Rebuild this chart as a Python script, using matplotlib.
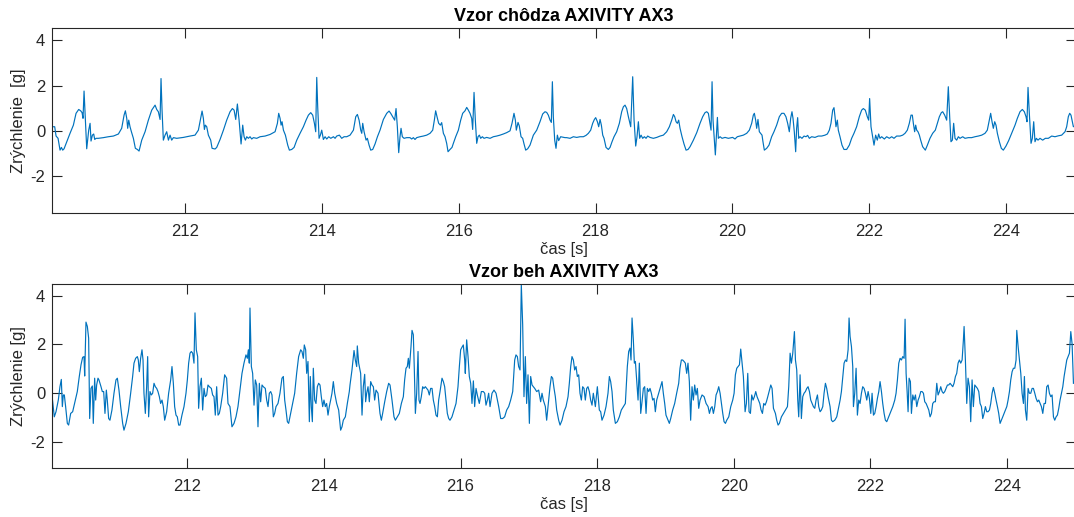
import matplotlib
matplotlib.use("Agg")
import matplotlib.pyplot as plt

# walking pattern, values (time [s], acceleration [g])
walk_t = [
    210.066, 210.095, 210.115, 210.144, 210.173, 210.193, 210.212, 210.232, 210.271, 210.319,
    210.368, 210.407, 210.446, 210.475, 210.495, 210.509, 210.524, 210.543, 210.563, 210.592,
    210.612, 210.626, 210.646, 210.665, 210.680, 210.699, 210.733, 210.807, 210.880, 210.953,
    211.026, 211.074, 211.109, 211.128, 211.148, 211.162, 211.177, 211.196, 211.216, 211.245,
    211.274, 211.303, 211.328, 211.367, 211.416, 211.464, 211.513, 211.562, 211.586, 211.610,
    211.635, 211.649, 211.664, 211.683, 211.708, 211.732, 211.757, 211.781, 211.805, 211.830,
    211.878, 211.976, 212.073, 212.146, 212.195, 212.229, 212.249, 212.268, 212.283, 212.297,
    212.317, 212.341, 212.375, 212.395, 212.439, 212.463, 212.512, 212.561, 212.609, 212.658,
    212.692, 212.717, 212.741, 212.765, 212.790, 212.819, 212.843, 212.863, 212.882, 212.902,
    212.926, 212.950, 212.975, 212.999, 213.048, 213.097, 213.170, 213.243, 213.316, 213.350,
    213.369, 213.389, 213.404, 213.418, 213.438, 213.467, 213.501, 213.525, 213.559, 213.594,
    213.633, 213.681, 213.730, 213.769, 213.803, 213.837, 213.866, 213.891, 213.910, 213.925,
    213.939, 213.959, 213.978, 213.998, 214.022, 214.047, 214.071, 214.100, 214.130, 214.169,
    214.193, 214.217, 214.256, 214.290, 214.324, 214.363, 214.412, 214.461, 214.495, 214.519,
    214.544, 214.568, 214.583, 214.597, 214.617, 214.646, 214.665, 214.690, 214.714, 214.743,
    214.777, 214.812, 214.850, 214.899, 214.948, 214.982, 215.006, 215.035, 215.064, 215.084,
    215.103, 215.123, 215.142, 215.157, 215.176, 215.201, 215.240, 215.288, 215.313, 215.337,
    215.361, 215.386, 215.434, 215.483, 215.532, 215.581, 215.620, 215.644, 215.663, 215.683,
    215.707, 215.732, 215.751, 215.776, 215.800, 215.824, 215.844, 215.873, 215.902, 215.922,
    215.956, 215.995, 216.029, 216.058, 216.092, 216.117, 216.141, 216.165, 216.190, 216.204,
    216.224, 216.243, 216.263, 216.282, 216.302, 216.321, 216.346, 216.370, 216.409, 216.458,
    216.506, 216.555, 216.604, 216.652, 216.701, 216.750, 216.779, 216.808, 216.828, 216.842,
    216.867, 216.886, 216.911, 216.935, 216.955, 216.979, 217.008, 217.042, 217.091, 217.140,
    217.188, 217.227, 217.261, 217.286, 217.310, 217.335, 217.354, 217.369, 217.383, 217.403,
    217.422, 217.442, 217.461, 217.490, 217.554, 217.578, 217.627, 217.676, 217.725, 217.773,
    217.822, 217.861, 217.895, 217.929, 217.958, 217.983, 218.002, 218.027, 218.046, 218.066,
    218.085, 218.105, 218.124, 218.153, 218.187, 218.212, 218.241, 218.270, 218.309, 218.348,
    218.382, 218.407, 218.431, 218.455, 218.480, 218.514, 218.543, 218.563, 218.587, 218.606,
    218.626, 218.645, 218.665, 218.689, 218.714, 218.738, 218.762, 218.796, 218.845, 218.894,
    218.943, 218.991, 219.040, 219.079, 219.113, 219.138, 219.157, 219.177, 219.196, 219.215,
    219.235, 219.264, 219.293, 219.323, 219.352, 219.381, 219.430, 219.479, 219.527, 219.566,
    219.600, 219.625, 219.649, 219.673, 219.688, 219.703, 219.717, 219.737, 219.751, 219.766,
    219.781, 219.795, 219.820, 219.849, 219.893, 219.941, 219.990, 220.004, 220.038, 220.072,
    220.111, 220.160, 220.209, 220.248, 220.282, 220.306, 220.321, 220.340, 220.355, 220.374,
    220.394, 220.413, 220.433, 220.447, 220.467, 220.501, 220.535, 220.574, 220.608, 220.647,
    220.686, 220.720, 220.754, 220.783, 220.808, 220.832, 220.852, 220.871, 220.886, 220.905,
    220.925, 220.939, 220.954, 220.969, 220.988, 221.017, 221.047, 221.076, 221.100, 221.125,
    221.159, 221.207, 221.256, 221.305, 221.354, 221.388, 221.417, 221.441, 221.466, 221.485,
    221.500, 221.514, 221.534, 221.548, 221.573, 221.602, 221.631, 221.670, 221.709, 221.743,
    221.777, 221.816, 221.855, 221.889, 221.914, 221.943, 221.972, 221.992, 222.006, 222.026,
    222.050, 222.070, 222.094, 222.118, 222.138, 222.157, 222.182, 222.221, 222.255, 222.294,
    222.328, 222.362, 222.401, 222.450, 222.489, 222.523, 222.557, 222.586, 222.611, 222.630,
    222.645, 222.664, 222.679, 222.694, 222.713, 222.733, 222.752, 222.781, 222.820, 222.850,
    222.888, 222.927, 222.966, 222.996, 223.025, 223.054, 223.074, 223.103, 223.132, 223.156,
    223.176, 223.195, 223.215, 223.234, 223.254, 223.278, 223.303, 223.327, 223.366, 223.400,
    223.449, 223.497, 223.546, 223.595, 223.644, 223.692, 223.726, 223.756, 223.775, 223.795,
    223.814, 223.834, 223.853, 223.873, 223.902, 223.931, 223.960, 223.999, 224.038, 224.082,
    224.131, 224.165, 224.204, 224.238, 224.267, 224.292, 224.306, 224.321, 224.340, 224.365,
    224.384, 224.404, 224.423, 224.443, 224.467, 224.496, 224.535, 224.574, 224.618, 224.667,
    224.715, 224.764, 224.813, 224.862, 224.886, 224.910, 224.930, 224.949, 224.969, 224.984,
    225.003,
]
walk_g = [
    0.19, 0.19, -0.22, -0.32, -0.84, -0.72, -0.84, -0.78, -0.47, -0.10,
    0.26, 0.78, 0.95, 0.89, 0.81, 0.56, 1.76, 0.48, -0.78, 0.04,
    0.34, -0.44, -0.18, -0.13, -0.37, -0.32, -0.32, -0.29, -0.25, -0.22,
    -0.13, 0.12, 0.70, 0.89, 0.56, 0.12, 0.48, 0.19, -0.03, -0.32,
    -0.76, -0.81, -0.88, -0.40, -0.03, 0.48, 0.92, 1.14, 0.95, 0.85,
    0.51, 2.31, 0.92, -0.40, -0.18, -0.03, -0.40, -0.18, -0.40, -0.29,
    -0.32, -0.28, -0.22, -0.18, 0.04, 0.56, 0.88, 0.56, 0.07, 0.26,
    0.19, -0.18, -0.40, -0.76, -0.79, -0.72, -0.37, 0.04, 0.48, 0.85,
    0.99, 0.92, 0.51, 1.19, 0.48, -0.57, 0.26, -0.25, -0.40, -0.25,
    -0.32, -0.25, -0.35, -0.29, -0.32, -0.25, -0.22, -0.15, -0.03, 0.34,
    0.78, 0.56, 0.26, 0.41, 0.04, -0.18, -0.62, -0.84, -0.81, -0.72,
    -0.40, -0.10, 0.19, 0.48, 0.70, 0.81, 0.70, 0.34, -0.03, 2.36,
    1.07, -0.32, -0.18, 0.04, -0.37, -0.25, -0.35, -0.25, -0.32, -0.25,
    -0.32, -0.22, -0.18, -0.32, -0.25, -0.25, -0.18, 0.04, 0.63, 0.73,
    0.48, 0.04, -0.10, 0.34, -0.03, -0.40, -0.32, -0.62, -0.84, -0.81,
    -0.57, -0.25, 0.04, 0.51, 0.78, 0.88, 0.78, 0.63, 0.48, 0.99,
    0.19, -0.95, -0.25, 0.12, -0.25, -0.32, -0.29, -0.29, -0.35, -0.29,
    -0.37, -0.29, -0.25, -0.22, -0.18, -0.10, 0.04, 0.48, 0.89, 0.63,
    0.34, 0.26, 0.37, -0.10, -0.25, -0.54, -0.91, -0.81, -0.72, -0.54,
    -0.25, 0.04, 0.48, 0.78, 0.89, 1.04, 0.92, 0.78, 0.56, 0.07,
    1.70, 0.48, -0.54, -0.25, -0.18, -0.32, -0.25, -0.32, -0.28, -0.32,
    -0.25, -0.22, -0.18, -0.13, -0.07, 0.01, 0.34, 0.78, 0.48, 0.04,
    0.38, 0.22, -0.25, -0.32, -0.57, -0.84, -0.78, -0.62, -0.18, 0.04,
    0.41, 0.75, 0.85, 0.82, 0.70, 0.48, 0.38, 2.17, 0.63, -0.40,
    -0.76, -0.18, -0.42, -0.25, -0.29, -0.29, -0.32, -0.25, -0.28, -0.25,
    -0.25, -0.19, -0.10, 0.04, 0.34, 0.51, 0.59, 0.41, 0.19, 0.51,
    0.26, -0.18, -0.32, -0.72, -0.81, -0.72, -0.47, -0.25, -0.03, 0.34,
    0.85, 1.07, 1.14, 0.99, 0.63, 0.19, 2.39, 0.48, -0.66, -0.25,
    0.41, -0.32, -0.18, -0.32, -0.25, -0.32, -0.22, -0.28, -0.32, -0.28,
    -0.22, -0.18, -0.03, 0.19, 0.48, 0.73, 0.63, 0.41, 0.34, 0.48,
    0.12, -0.25, -0.57, -0.84, -0.81, -0.69, -0.40, -0.07, 0.34, 0.63,
    0.81, 0.85, 0.78, 0.34, 0.04, 2.17, 0.48, -0.40, -1.05, -0.18,
    0.60, -0.32, -0.25, -0.32, -0.28, -0.32, -0.29, -0.28, -0.35, -0.25,
    -0.22, -0.18, -0.10, 0.04, 0.34, 0.70, 0.78, 0.48, 0.12, 0.51,
    -0.03, -0.10, -0.18, -0.47, -0.84, -0.76, -0.62, -0.25, -0.03, 0.26,
    0.63, 0.78, 0.78, 0.63, 0.34, -0.03, 0.56, 0.85, 0.56, -0.03,
    -0.91, 0.12, 0.59, -0.32, -0.25, -0.32, -0.22, -0.25, -0.19, -0.32,
    -0.25, -0.28, -0.22, -0.22, -0.18, -0.13, 0.04, 0.34, 0.92, 1.03,
    0.63, 0.19, 0.48, 0.04, -0.25, -0.62, -0.81, -0.81, -0.62, -0.32,
    -0.10, 0.19, 0.63, 0.92, 0.99, 0.92, 0.63, 0.48, 1.43, 0.19,
    -0.25, -0.62, -0.18, -0.40, -0.13, -0.32, -0.25, -0.35, -0.25, -0.32,
    -0.25, -0.32, -0.22, -0.22, -0.18, -0.10, 0.04, 0.34, 0.70, 0.70,
    0.34, -0.03, 0.26, 0.04, -0.03, -0.18, -0.40, -0.69, -0.84, -0.62,
    -0.32, -0.10, 0.04, 0.34, 0.63, 0.81, 0.85, 0.70, 0.48, 1.95,
    0.63, -0.47, -0.40, 0.34, -0.32, -0.40, -0.25, -0.32, -0.25, -0.32,
    -0.29, -0.29, -0.25, -0.22, -0.18, -0.10, 0.04, 0.48, 0.78, 0.41,
    0.12, 0.41, 0.26, -0.10, -0.47, -0.76, -0.84, -0.66, -0.42, -0.10,
    0.26, 0.56, 0.85, 0.95, 0.85, 0.63, 0.41, 1.92, 0.78, -0.54,
    -0.32, 0.41, -0.47, -0.32, -0.40, -0.32, -0.40, -0.32, -0.32, -0.22,
    -0.25, -0.21, -0.18, -0.03, 0.19, 0.63, 0.78, 0.70, 0.41, 0.19,
    0.22,
]

# running pattern
run_t = [
    210.024, 210.053, 210.078, 210.112, 210.136, 210.156, 210.171, 210.185, 210.200, 210.219,
    210.244, 210.263, 210.293, 210.322, 210.356, 210.390, 210.419, 210.444, 210.468, 210.488,
    210.498, 210.517, 210.537, 210.556, 210.571, 210.590, 210.610, 210.624, 210.644, 210.659,
    210.673, 210.693, 210.707, 210.737, 210.756, 210.776, 210.795, 210.815, 210.829, 210.849,
    210.868, 210.897, 210.927, 210.956, 210.976, 211.000, 211.025, 211.054, 211.073, 211.103,
    211.137, 211.171, 211.200, 211.220, 211.244, 211.269, 211.283, 211.298, 211.317, 211.337,
    211.352, 211.366, 211.386, 211.405, 211.420, 211.434, 211.454, 211.474, 211.493, 211.513,
    211.532, 211.552, 211.571, 211.591, 211.610, 211.630, 211.649, 211.669, 211.698, 211.727,
    211.757, 211.776, 211.796, 211.815, 211.835, 211.854, 211.874, 211.893, 211.922, 211.952,
    211.981, 212.001, 212.020, 212.040, 212.059, 212.079, 212.098, 212.113, 212.132, 212.152,
    212.166, 212.186, 212.206, 212.225, 212.245, 212.264, 212.284, 212.303, 212.323, 212.352,
    212.371, 212.391, 212.410, 212.430, 212.450, 212.469, 212.489, 212.518, 212.547, 212.576,
    212.596, 212.625, 212.654, 212.684, 212.713, 212.742, 212.772, 212.801, 212.830, 212.859,
    212.879, 212.894, 212.908, 212.918, 212.938, 212.957, 212.977, 212.996, 213.016, 213.035,
    213.055, 213.074, 213.094, 213.113, 213.142, 213.162, 213.182, 213.201, 213.221, 213.240,
    213.260, 213.279, 213.299, 213.328, 213.357, 213.386, 213.406, 213.426, 213.445, 213.465,
    213.484, 213.513, 213.543, 213.572, 213.601, 213.630, 213.660, 213.679, 213.699, 213.713,
    213.733, 213.748, 213.767, 213.787, 213.801, 213.816, 213.831, 213.845, 213.865, 213.884,
    213.904, 213.923, 213.943, 213.962, 213.982, 214.001, 214.021, 214.040, 214.060, 214.079,
    214.099, 214.118, 214.138, 214.158, 214.187, 214.216, 214.245, 214.265, 214.284, 214.314,
    214.343, 214.372, 214.382, 214.411, 214.441, 214.460, 214.480, 214.489, 214.509, 214.538,
    214.558, 214.577, 214.597, 214.611, 214.626, 214.646, 214.665, 214.685, 214.704, 214.724,
    214.743, 214.763, 214.792, 214.821, 214.841, 214.860, 214.890, 214.919, 214.948, 214.968,
    214.997, 215.026, 215.046, 215.075, 215.104, 215.134, 215.163, 215.182, 215.202, 215.221,
    215.236, 215.251, 215.275, 215.290, 215.309, 215.324, 215.339, 215.358, 215.378, 215.392,
    215.407, 215.426, 215.446, 215.465, 215.485, 215.504, 215.524, 215.543, 215.563, 215.583,
    215.602, 215.622, 215.641, 215.661, 215.680, 215.700, 215.729, 215.749, 215.768, 215.788,
    215.807, 215.827, 215.846, 215.875, 215.905, 215.934, 215.963, 215.983, 216.002, 216.022,
    216.041, 216.061, 216.070, 216.090, 216.110, 216.129, 216.149, 216.168, 216.188, 216.207,
    216.227, 216.246, 216.275, 216.305, 216.334, 216.354, 216.373, 216.393, 216.412, 216.432,
    216.461, 216.490, 216.520, 216.559, 216.588, 216.617, 216.646, 216.676, 216.705, 216.734,
    216.764, 216.793, 216.812, 216.832, 216.851, 216.871, 216.890, 216.910, 216.929, 216.949,
    216.968, 216.988, 217.008, 217.027, 217.047, 217.066, 217.086, 217.115, 217.144, 217.173,
    217.193, 217.212, 217.242, 217.261, 217.291, 217.310, 217.330, 217.349, 217.369, 217.388,
    217.408, 217.437, 217.457, 217.486, 217.515, 217.544, 217.574, 217.593, 217.613, 217.632,
    217.652, 217.671, 217.691, 217.710, 217.730, 217.749, 217.769, 217.788, 217.808, 217.827,
    217.847, 217.866, 217.886, 217.905, 217.925, 217.944, 217.974, 218.003, 218.032, 218.052,
    218.071, 218.101, 218.130, 218.159, 218.179, 218.198, 218.218, 218.237, 218.267, 218.296,
    218.325, 218.354, 218.384, 218.413, 218.442, 218.462, 218.481, 218.496, 218.511, 218.530,
    218.545, 218.560, 218.579, 218.599, 218.618, 218.638, 218.657, 218.677, 218.696, 218.716,
    218.735, 218.755, 218.774, 218.794, 218.813, 218.833, 218.852, 218.872, 218.901, 218.930,
    218.950, 218.969, 218.989, 219.008, 219.028, 219.057, 219.077, 219.106, 219.135, 219.164,
    219.194, 219.213, 219.233, 219.252, 219.272, 219.291, 219.311, 219.330, 219.350, 219.369,
    219.389, 219.409, 219.428, 219.448, 219.467, 219.487, 219.507, 219.536, 219.566, 219.595,
    219.624, 219.644, 219.663, 219.683, 219.702, 219.722, 219.741, 219.761, 219.780, 219.800,
    219.819, 219.839, 219.858, 219.878, 219.897, 219.927, 219.956, 219.985, 220.005, 220.024,
    220.044, 220.063, 220.083, 220.102, 220.122, 220.141, 220.166, 220.185, 220.205, 220.224,
    220.244, 220.263, 220.283, 220.302, 220.322, 220.341, 220.361, 220.381, 220.400, 220.420,
    220.439, 220.459, 220.478, 220.498, 220.522, 220.542, 220.561, 220.581, 220.610, 220.629,
    220.649, 220.668, 220.698, 220.727, 220.756, 220.786, 220.805, 220.825, 220.844, 220.864,
    220.888, 220.903, 220.922, 220.937, 220.951, 220.971, 220.990, 221.010, 221.029, 221.049,
    221.069, 221.088, 221.108, 221.127, 221.147, 221.166, 221.186, 221.205, 221.225, 221.244,
    221.264, 221.283, 221.303, 221.322, 221.342, 221.361, 221.381, 221.410, 221.430, 221.449,
    221.479, 221.508, 221.537, 221.557, 221.576, 221.596, 221.615, 221.635, 221.654, 221.674,
    221.688, 221.703, 221.723, 221.742, 221.752, 221.771, 221.791, 221.810, 221.830, 221.849,
    221.869, 221.888, 221.908, 221.927, 221.947, 221.967, 221.986, 222.006, 222.025, 222.045,
    222.064, 222.084, 222.103, 222.123, 222.142, 222.162, 222.181, 222.201, 222.220, 222.240,
    222.269, 222.298, 222.328, 222.357, 222.376, 222.396, 222.416, 222.435, 222.455, 222.474,
    222.494, 222.508, 222.523, 222.538, 222.552, 222.567, 222.586, 222.601, 222.621, 222.640,
    222.660, 222.679, 222.699, 222.718, 222.738, 222.757, 222.777, 222.796, 222.816, 222.835,
    222.855, 222.874, 222.894, 222.913, 222.933, 222.952, 222.972, 222.991, 223.011, 223.030,
    223.050, 223.069, 223.089, 223.108, 223.128, 223.147, 223.167, 223.186, 223.206, 223.225,
    223.245, 223.264, 223.284, 223.303, 223.323, 223.343, 223.362, 223.372, 223.391, 223.411,
    223.430, 223.450, 223.469, 223.489, 223.508, 223.528, 223.547, 223.567, 223.587, 223.606,
    223.626, 223.645, 223.665, 223.684, 223.704, 223.723, 223.743, 223.762, 223.782, 223.801,
    223.821, 223.840, 223.860, 223.879, 223.899, 223.918, 223.938, 223.957, 223.977, 223.997,
    224.016, 224.036, 224.055, 224.075, 224.094, 224.114, 224.133, 224.143, 224.163, 224.182,
    224.202, 224.221, 224.241, 224.255, 224.270, 224.289, 224.309, 224.328, 224.348, 224.368,
    224.387, 224.407, 224.426, 224.446, 224.465, 224.485, 224.504, 224.524, 224.543, 224.563,
    224.582, 224.602, 224.621, 224.641, 224.660, 224.680, 224.699, 224.719, 224.738, 224.758,
    224.777, 224.797, 224.817, 224.836, 224.856, 224.875, 224.895, 224.914, 224.934, 224.953,
    224.973,
]
run_g = [
    -0.22, -0.98, -0.77, -0.29, 0.26, 0.56, -0.56, -0.08, -0.08, -0.56,
    -1.25, -1.32, -0.84, -0.77, -0.36, 0.06, 0.68, 1.16, 1.47, 1.50,
    0.70, 2.92, 2.74, 2.26, -1.05, 0.19, 0.29, -1.25, 0.61, -0.29,
    0.33, 0.61, 0.54, 0.26, 0.06, 0.06, -0.84, 0.12, -0.29, -1.05,
    -1.12, -0.70, -0.01, 0.54, 0.61, 0.12, -0.56, -1.25, -1.53, -1.25,
    -0.77, -0.01, 0.68, 1.23, 1.43, 1.50, 1.36, 0.88, 1.43, 1.78,
    1.36, -0.01, -0.84, 0.26, 1.50, -0.98, 0.06, -0.08, -0.01, 0.40,
    0.26, 0.19, 0.06, -0.15, -0.43, -0.29, -0.56, -1.12, -0.77, -0.01,
    0.54, 1.09, 0.40, -0.56, -0.91, -0.98, -1.32, -1.32, -0.91, -0.56,
    -0.01, 0.54, 1.23, 1.64, 1.71, 1.64, 1.23, 3.30, 1.78, 1.50,
    -0.63, 0.26, 0.61, -0.70, 0.19, -0.15, -0.08, 0.33, 0.26, 0.19,
    -0.08, -0.15, -0.91, 0.26, -0.91, -0.84, -0.56, -0.01, 0.75, 0.61,
    -0.43, -0.56, -1.39, -1.25, -0.98, -0.56, 0.12, 0.81, 1.23, 1.57,
    1.43, 1.78, 1.23, 3.50, 1.09, 0.81, -0.50, 0.54, 0.33, -1.39,
    0.40, -0.36, 0.33, 0.26, 0.19, -0.29, -0.56, -0.01, 0.06, -0.08,
    -0.98, -0.84, -0.56, -0.43, -0.01, 0.61, 0.68, -0.29, -0.70, -1.18,
    -1.25, -0.84, -0.43, -0.01, 0.81, 1.50, 1.78, 1.71, 1.43, 1.98,
    1.78, 0.81, 1.30, -1.18, 0.68, -0.56, -1.18, 1.02, -0.29, -0.43,
    0.26, 0.40, 0.33, -0.15, -0.56, -0.29, -0.56, -0.43, -0.91, -0.56,
    -0.29, -0.01, 0.47, -0.01, -0.43, -0.70, -1.53, -1.39, -1.12, -0.98,
    -0.43, 0.06, 0.33, 0.95, 1.75, 1.36, 1.09, 1.94, 1.23, 0.81,
    -0.91, 0.26, 0.77, -0.36, -0.01, 0.26, -0.36, 0.47, 0.33, 0.26,
    -0.29, 0.12, -0.01, -0.84, -1.12, -0.84, -0.36, 0.06, 0.40, 0.33,
    -0.29, -0.98, -1.12, -0.98, -0.84, -0.43, -0.15, 0.54, 1.02, 1.09,
    1.43, 1.02, 1.91, 2.58, 2.40, 0.95, -0.84, -0.01, 1.71, -0.29,
    -0.43, -0.15, 0.26, 0.19, 0.26, 0.19, 0.12, -0.08, 0.19, 0.19,
    -0.29, -0.56, -0.91, -0.98, -0.29, 0.06, 0.61, 0.47, 0.26, -0.29,
    -0.84, -1.05, -1.12, -0.98, -0.70, -0.43, 0.26, 1.09, 1.78, 1.89,
    1.98, 1.36, 0.81, 2.19, 1.50, 0.68, 0.40, -0.43, 0.50, -0.56,
    0.19, -0.08, -0.43, 0.06, 0.06, -0.01, -0.50, -0.29, -0.01, -0.56,
    -0.01, 0.12, -0.01, -0.56, -1.05, -1.05, -0.98, -0.70, -0.56, -0.29,
    0.06, 1.36, 1.57, 1.50, 1.09, 0.95, 4.46, 2.81, -0.15, 1.50,
    -0.43, 0.75, -1.25, 0.68, 0.33, 0.26, 0.19, 0.06, 0.12, -0.36,
    -0.01, -0.29, -0.56, -1.12, -0.29, 0.26, 0.68, 0.61, 0.19, -0.15,
    -0.70, -1.12, -1.32, -1.12, -0.77, -0.56, -0.15, 0.40, 1.09, 1.50,
    1.36, 0.95, 1.09, 0.68, 0.75, -0.01, -0.29, 0.26, 0.19, -0.29,
    0.19, 0.26, 0.06, -0.29, -0.50, -0.01, -0.56, 0.26, -0.70, -0.77,
    -1.12, -0.91, -0.56, -0.01, 0.68, 0.47, 0.06, -0.70, -1.25, -1.18,
    -0.98, -0.70, -0.56, -0.43, 1.09, 1.71, 1.85, 1.36, 3.09, 2.19,
    1.23, 1.30, 0.54, -0.29, 1.23, -0.84, -0.36, 0.19, 0.26, -0.84,
    0.19, 0.06, 0.19, -0.01, -0.29, -0.22, -0.77, -0.29, -0.01, 0.26,
    0.47, -0.01, -0.43, -0.91, -1.05, -1.25, -1.05, -0.70, -0.43, -0.01,
    0.40, 1.02, 1.36, 1.36, 1.30, 1.23, 0.81, 1.23, 0.47, -1.12,
    0.26, -0.29, 0.33, -0.08, 0.19, -0.63, -0.29, -0.08, -0.15, -0.43,
    -0.56, -0.84, -0.63, -0.56, -0.84, -0.56, -0.08, 0.06, 0.26, -0.01,
    -0.43, -0.84, -1.18, -1.25, -1.12, -0.98, -0.56, -0.29, -0.01, 0.75,
    1.02, 1.09, 1.16, 1.81, 1.23, 0.68, -0.77, -0.43, 0.81, -0.77,
    -0.84, -0.08, -0.29, -0.15, 0.06, -0.15, -0.29, -0.43, -0.70, -0.84,
    -0.43, -0.50, -0.36, -0.15, 0.12, 0.33, 0.19, -0.63, -0.84, -1.12,
    -1.32, -1.25, -0.98, -0.84, -0.70, -0.56, 0.26, 1.64, 1.23, 1.64,
    2.53, 1.36, 0.95, -0.29, -0.98, 0.75, -1.05, -0.15, -0.01, 0.06,
    0.19, 0.26, 0.06, -0.29, -0.43, -0.56, -0.63, -0.29, -0.08, -0.56,
    -0.77, -0.70, -0.56, -0.01, 0.40, 0.19, -0.15, -0.56, -1.12, -1.18,
    -1.12, -0.98, -0.56, -0.29, 0.06, 0.68, 1.23, 1.36, 1.30, 1.78,
    3.09, 2.33, 1.91, 1.09, -0.56, -0.01, 1.02, -0.91, -0.29, -0.43,
    -0.01, 0.26, 0.19, -0.01, -0.29, 0.06, -0.22, -0.84, -0.01, -0.91,
    -0.84, -0.56, -0.22, 0.06, 0.47, 0.06, -0.43, -0.84, -1.12, -1.18,
    -0.98, -0.77, -0.56, -0.29, -0.01, 0.54, 1.23, 1.43, 1.36, 1.50,
    1.43, 3.04, 0.81, 0.06, -0.77, 0.61, 0.47, -0.84, -0.08, -0.29,
    -0.08, -0.56, -0.29, -0.15, 0.06, 0.06, -0.01, -0.36, -0.43, -0.56,
    -0.70, -0.98, -0.84, -0.43, -0.36, -0.36, 0.40, -0.08, 0.06, 0.26,
    0.06, -0.01, 0.06, 0.19, 0.33, 0.33, 0.40, 0.33, 0.26, 0.40,
    0.68, 0.81, 1.23, 1.36, 1.23, 1.36, 2.19, 2.74, 1.36, -0.43,
    0.61, 0.26, -1.18, 0.54, -0.56, 0.33, 0.26, 0.19, 0.06, -0.43,
    -0.56, -1.05, -0.84, -0.56, -0.77, -0.77, -0.70, -0.43, -0.01, 0.23,
    -0.01, -0.29, -0.56, -0.84, -1.25, -1.12, -0.98, -0.84, -0.70, -0.56,
    -0.29, 0.06, 0.54, 0.88, 1.02, 1.02, 1.36, 2.58, 1.91, 1.36,
    0.81, -0.01, -0.43, 0.68, -0.70, -1.12, 0.19, -0.01, -0.01, 0.19,
    0.19, -0.01, -0.22, -0.36, -0.29, -0.43, -0.56, -0.84, -0.43, -0.43,
    0.26, 0.33, -0.01, -0.15, -0.08, -0.98, -1.12, -0.98, -0.91, -0.63,
    -0.29, -0.01, 0.26, 0.68, 1.02, 1.36, 1.50, 1.64, 2.53, 2.02,
    0.40,
]

plt.rcParams["font.family"] = ["Liberation Sans", "DejaVu Sans"]
plt.rcParams["axes.unicode_minus"] = False

blue = "#0072BD"
dark = "#262626"

fig = plt.figure(figsize=(10.74, 5.17), dpi=100)
ax1 = fig.add_axes([0.0487, 0.5874, 0.9527, 0.3578])
ax2 = fig.add_axes([0.0487, 0.0942, 0.9527, 0.3565])

panels = [
    (ax1, walk_t, walk_g, "Vzor chôdza AXIVITY AX3", "Zrýchlenie  [g]", (210.06, 225.015), (-3.62, 4.52)),
    (ax2, run_t, run_g, "Vzor beh AXIVITY AX3", "Zrýchlenie [g]", (210.024, 225.003), (-3.10, 4.49)),
]

for ax, t, g, title, ylab, xl, yl in panels:
    ax.plot(t, g, color=blue, lw=0.85)
    ax.set_xlim(*xl)
    ax.set_ylim(*yl)
    ax.set_xticks([212, 214, 216, 218, 220, 222, 224])
    ax.set_yticks([-2, 0, 2, 4])
    ax.tick_params(direction="in", length=7, width=0.8, colors=dark,
                   labelsize=12, top=True, right=True)
    ax.tick_params(axis="x", pad=8)
    ax.tick_params(axis="y", pad=5)
    for s in ax.spines.values():
        s.set_color(dark)
        s.set_linewidth(0.8)
    ax.set_title(title, fontsize=13, fontweight="bold", color="black", pad=5)
    ax.set_xlabel("čas [s]", fontsize=12, color=dark, labelpad=2)
    ax.set_ylabel(ylab, fontsize=12, color=dark, labelpad=3)

fig.savefig("out.png", dpi=100)
